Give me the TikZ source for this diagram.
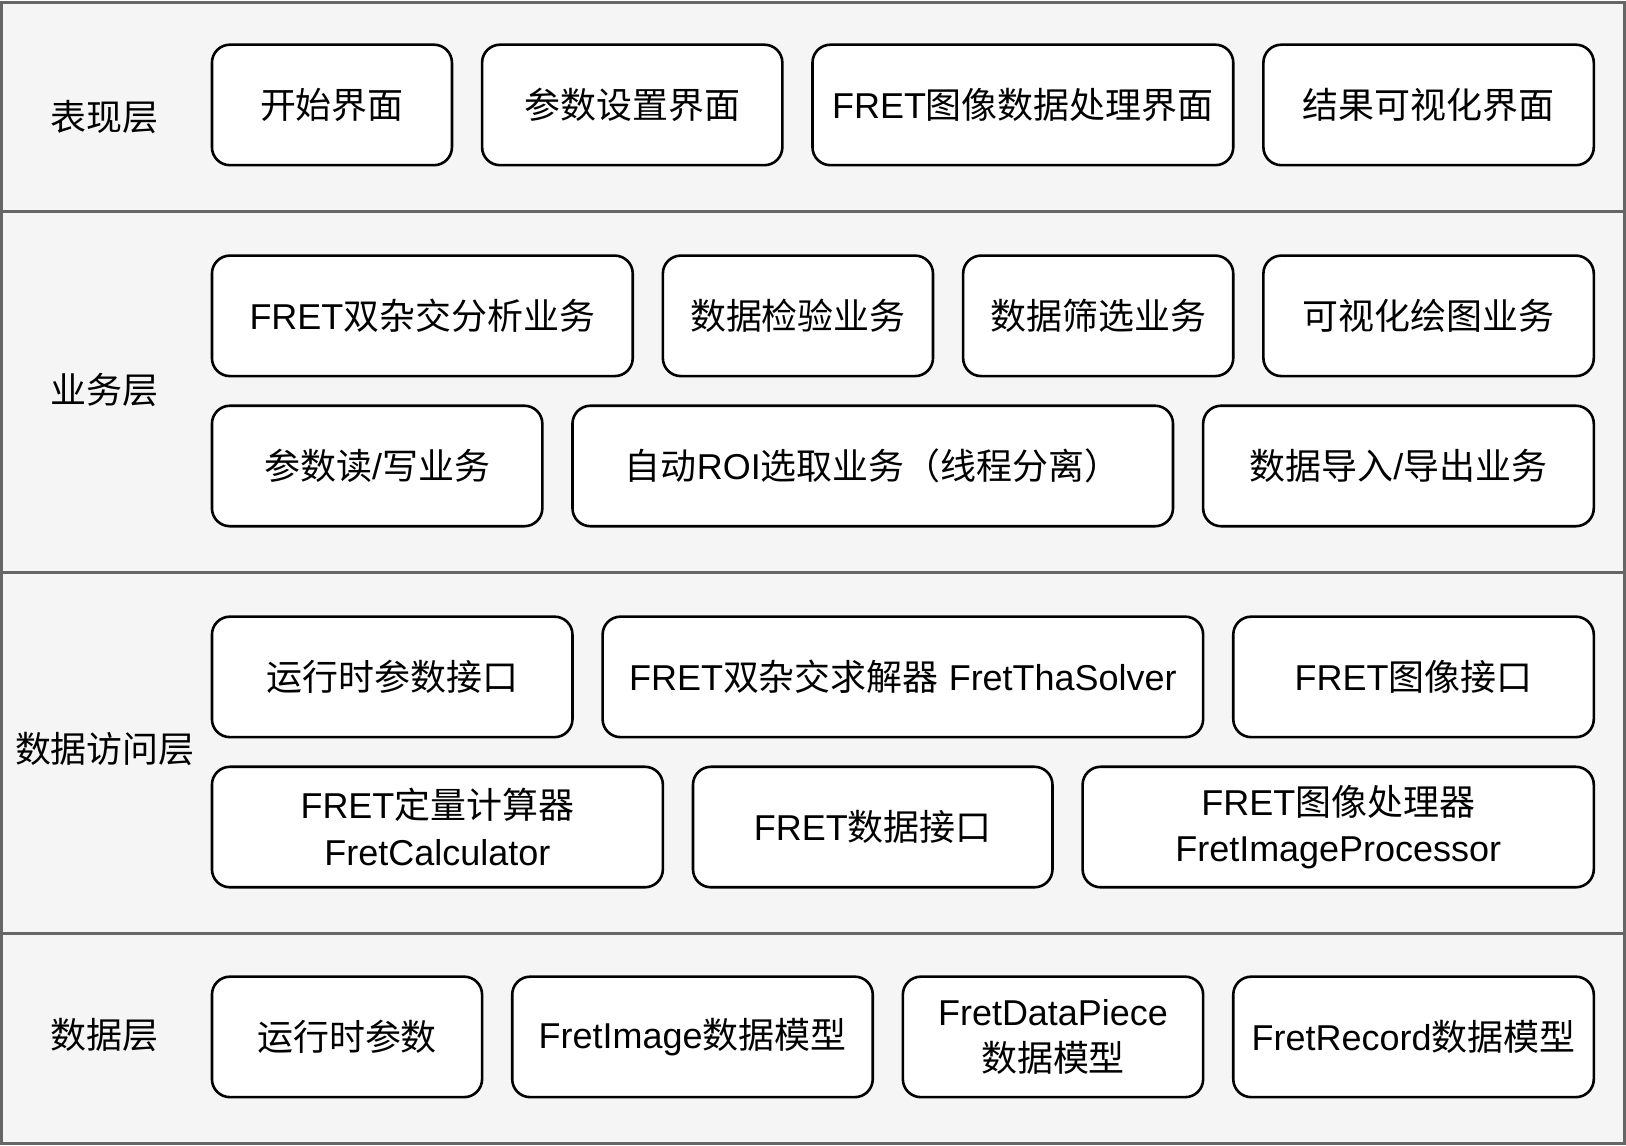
\documentclass[tikz,border=0pt]{standalone}
\usepackage{fontspec}
\setmainfont{Liberation Sans}
\newfontfamily\cjk{Noto Sans CJK SC}
\newcommand{\zh}[1]{{\cjk #1}}
\definecolor{layerfill}{HTML}{F5F5F5}
\definecolor{layerline}{HTML}{666666}
\tikzset{
	layer/.style={draw=layerline, fill=layerfill, line width=1.5pt},
	layername/.style={font=\fontsize{18}{23.4}\selectfont},
	module/.style={draw=black, fill=white, line width=1.3pt, rounded corners=9pt,
		align=center, inner sep=0pt, minimum height=60.3pt,
		font=\fontsize{18}{23.4}\selectfont},
	boxw/.style={minimum width=#1*0.52pt}
}

\begin{document}
\begin{tikzpicture}[x=0.52pt, y=-0.52pt]
	
	\useasboundingbox (0,0) rectangle (1565,1103);
	
	% layers
	\draw[layer] (1,2) rectangle (1564,204);
	\draw[layer] (1,204) rectangle (1564,551);
	\draw[layer] (1,551) rectangle (1564,898);
	\draw[layer] (1,898) rectangle (1564,1101);
	
	\node[layername] (lpres) at (101,113) {\zh{表现层}};
	\node[layername] (lbiz) at (101,375) {\zh{业务层}};
	\node[layername] (ldao) at (101,721) {\zh{数据访问层}};
	\node[layername] (ldata) at (101,996) {\zh{数据层}};
	
	% presentation layer
	\node[module, boxw=231] (startui) at (319.5,101) {\zh{开始界面}};
	\node[module, boxw=289] (paramui) at (608.5,101) {\zh{参数设置界面}};
	\node[module, boxw=405] (fretui) at (984.5,101) {FRET\zh{图像数据处理界面}};
	\node[module, boxw=318] (resultui) at (1375,101) {\zh{结果可视化界面}};
	
	% business layer
	\node[module, boxw=405] (tha) at (406.5,304) {FRET\zh{双杂交分析业务}};
	\node[module, boxw=260] (check) at (768,304) {\zh{数据检验业务}};
	\node[module, boxw=260] (filter) at (1057,304) {\zh{数据筛选业务}};
	\node[module, boxw=318] (plot) at (1375,304) {\zh{可视化绘图业务}};
	\node[module, boxw=318] (paramrw) at (363,448.5) {\zh{参数读}/\zh{写业务}};
	\node[module, boxw=578] (roi) at (840,448.5) {\zh{自动}ROI\zh{选取业务（线程分离）}};
	\node[module, boxw=376] (dataio) at (1346,448.5) {\zh{数据导入}/\zh{导出业务}};
	
	% data access layer
	\node[module, boxw=347] (rtif) at (377.5,651.5) {\zh{运行时参数接口}};
	\node[module, boxw=578] (solver) at (869,651.5) {FRET\zh{双杂交求解器} FretThaSolver};
	\node[module, boxw=347] (imgif) at (1360.5,651.5) {FRET\zh{图像接口}};
	\node[module, boxw=434] (calc) at (421,796) {FRET\zh{定量计算器}\\FretCalculator};
	\node[module, boxw=346] (dataif) at (840,796) {FRET\zh{数据接口}};
	\node[module, boxw=492] (proc) at (1288,796) {FRET\zh{图像处理器}\\FretImageProcessor};
	
	% data layer
	\node[module, boxw=260] (rtparam) at (334,998) {\zh{运行时参数}};
	\node[module, boxw=347] (imgmodel) at (666.5,998) {FretImage\zh{数据模型}};
	\node[module, boxw=289] (piece) at (1013.5,998) {FretDataPiece\\\zh{数据模型}};
	\node[module, boxw=347] (record) at (1360.5,998) {FretRecord\zh{数据模型}};
	
\end{tikzpicture}
\end{document}
